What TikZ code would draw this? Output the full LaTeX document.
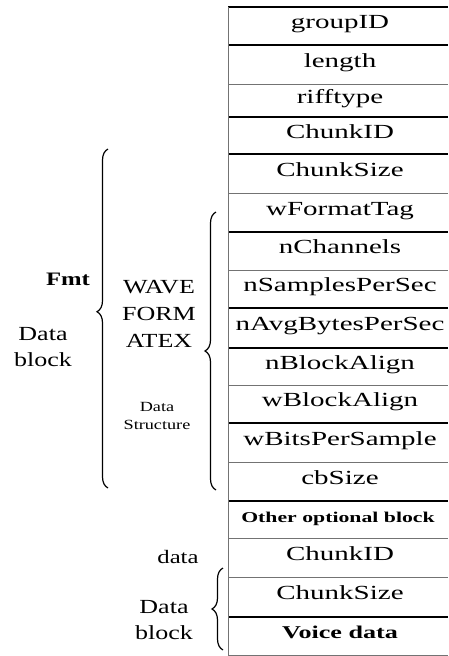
\documentclass[tikz,border=0pt]{standalone}
\usepackage{fontspec}
\setmainfont{Liberation Serif}
\newfontfamily\tabfont{Liberation Serif}[FakeStretch=1.45]
\newfontfamily\lblfont{Liberation Serif}[FakeStretch=1.3]
\usetikzlibrary{decorations.pathreplacing}
\tikzset{
  thickrule/.style={line width=1.4pt, black},
  thinrule/.style={line width=1.0pt, black!55},
  cell/.style={inner sep=0pt, font=\tabfont\fontsize{20}{22}\selectfont, text height=0.7em, text depth=0.2em},
  lbl/.style={inner sep=0pt, align=center, font=\lblfont\fontsize{20}{26}\selectfont},
  bracestyle/.style={decorate, line width=1.2pt, black},
}
\begin{document}
\begin{tikzpicture}[x=1pt,y=-1pt]
\useasboundingbox (0,0) rectangle (448,656);
% horizontal rules
\foreach \yy/\st in {7/thickrule,45/thickrule,84/thinrule,117/thickrule,154/thickrule,193/thinrule,232/thickrule,270/thinrule,308/thickrule,348/thickrule,385/thinrule,423/thickrule,462/thinrule,501/thickrule,538/thinrule,577/thinrule,617/thickrule,655/thinrule}
  \draw[\st] (228,\yy) -- (448,\yy);
\draw[thinrule] (228,7) -- (228,655);
% cells
\node[cell] (r1) at (340,26) {groupID};
\node[cell] (r2) at (340,64.5) {length};
\node[cell] (r3) at (340,100.5) {rifftype};
\node[cell] (r4) at (340,135.5) {ChunkID};
\node[cell] (r5) at (340,173.5) {ChunkSize};
\node[cell] (r6) at (340,212.5) {wFormatTag};
\node[cell] (r7) at (340,251) {nChannels};
\node[cell] (r8) at (340,289) {nSamplesPerSec};
\node[cell] (r9) at (340,328) {nAvgBytesPerSec};
\node[cell] (r10) at (340,366.5) {nBlockAlign};
\node[cell] (r11) at (340,404) {wBlockAlign};
\node[cell] (r12) at (340,442.5) {wBitsPerSample};
\node[cell] (r13) at (340,481.5) {cbSize};
\node[cell, font=\tabfont\bfseries\fontsize{15}{17}\selectfont] (r14) at (338,519.5) {Other optional block};
\node[cell] (r15) at (340,557.5) {ChunkID};
\node[cell] (r16) at (340,597) {ChunkSize};
\node[cell, font=\tabfont\bfseries\fontsize{18}{20}\selectfont] (r17) at (340,636) {Voice data};
% left labels
\node[lbl, font=\lblfont\bfseries\fontsize{19}{22}\selectfont] (fmt) at (68,279) {Fmt};
\node[lbl] (db1) at (43,347) {Data\\block};
\node[lbl, font=\lblfont\fontsize{20}{27}\selectfont] (wfx) at (159,314) {WAVE\\FORM\\ATEX};
\node[lbl, font=\lblfont\fontsize{14}{18}\selectfont] (ds) at (157,416) {Data\\Structure};
\node[lbl, font=\lblfont\fontsize{19}{20}\selectfont] (dat) at (178,557) {data};
\node[lbl] (db2) at (164,620) {Data\\block};
% braces
\coordinate (b1b) at (108,488);
\coordinate (b1t) at (108,149);
\coordinate (b2b) at (216,490);
\coordinate (b2t) at (216,212);
\coordinate (b3b) at (223,650);
\coordinate (b3t) at (223,568);
\draw[bracestyle, decoration={brace, amplitude=11pt, aspect=0.52}] (b1b) -- (b1t);
\draw[bracestyle, decoration={brace, amplitude=11pt, aspect=0.5}] (b2b) -- (b2t);
\draw[bracestyle, decoration={brace, amplitude=11pt, aspect=0.5}] (b3b) -- (b3t);
\end{tikzpicture}
\end{document}
